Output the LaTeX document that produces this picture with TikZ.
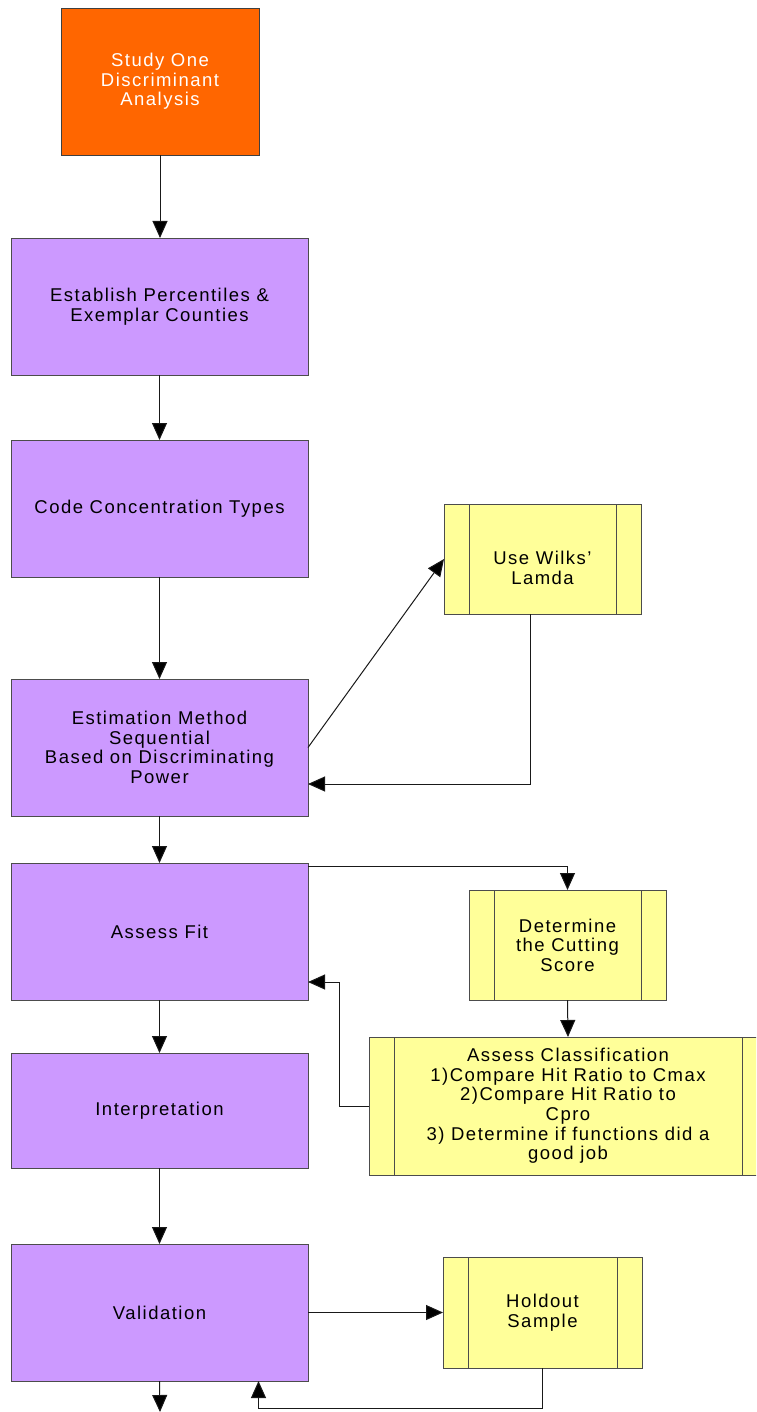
\documentclass[tikz,border=0pt]{standalone}
\usepackage{fontspec}
\setmainfont{Liberation Sans}[LetterSpace=8]
\usetikzlibrary{arrows.meta}
\definecolor{studyorange}{HTML}{FF6600}
\definecolor{steppurple}{HTML}{CC99FF}
\definecolor{subyellow}{HTML}{FFFF99}
\tikzset{
  boxtext/.style={font=\fontsize{18.5}{19.6}\selectfont, align=center, inner sep=0pt, outer sep=0pt},
  startbox/.style={boxtext, draw=black!75, line width=0.9pt, fill=studyorange, text=white},
  stepbox/.style={boxtext, draw=black!70, line width=0.9pt, fill=steppurple, minimum width=297pt},
  subbox/.style={boxtext, draw=black!70, line width=0.9pt, fill=subyellow,
    path picture={
      \draw[black!70, line width=0.9pt]
        ([xshift=25pt]path picture bounding box.north west) -- ([xshift=25pt]path picture bounding box.south west)
        ([xshift=-25pt]path picture bounding box.north east) -- ([xshift=-25pt]path picture bounding box.south east);
    }},
  link/.style={draw=black!90, line width=1pt, -{Triangle[length=17pt,width=15pt,fill=black]}},
}
\begin{document}
\begin{tikzpicture}[x=1pt,y=-1pt]
\useasboundingbox (0,0) rectangle (756,1412);
\clip (0,0) rectangle (756,1412);

% main column
\node[startbox, minimum width=198pt, minimum height=147pt] (study) at (160,81.5) {Study One\\Discriminant\\Analysis};
\node[stepbox, minimum height=137pt] (estab) at (159.5,306.5) {Establish Percentiles \&\\Exemplar Counties};
\node[stepbox, minimum height=137pt] (code) at (159.5,508.5) {Code Concentration Types};
\node[stepbox, minimum height=137pt] (estim) at (159.5,747.5) {Estimation Method\\Sequential\\Based on Discriminating\\Power};
\node[stepbox, minimum height=137pt] (fit) at (159.5,931.5) {Assess Fit};
\node[stepbox, minimum height=115pt] (interp) at (159.5,1110.5) {Interpretation};
\node[stepbox, minimum height=137pt] (valid) at (159.5,1312.5) {Validation};
\coordinate (exit) at (160,1412);

% side processes
\node[subbox, minimum width=197pt, minimum height=110pt] (wilks) at (542.5,559) {};
\node[boxtext] (wilkstext) at ([yshift=-9pt]wilks.center) {Use Wilks'\\Lamda};
\node[subbox, minimum width=197pt, minimum height=110pt] (cut) at (567.5,945) {Determine\\the Cutting\\Score};
\node[subbox, minimum width=398pt, minimum height=138pt] (class) at (568,1106) {Assess Classification\\1)Compare Hit Ratio to Cmax\\2)Compare Hit Ratio to\\Cpro\\3) Determine if functions did a\\good job};
\node[subbox, minimum width=199pt, minimum height=111pt] (hold) at (542.5,1312.5) {Holdout\\Sample};

% main flow
\draw[link] (study.south) -- (study.south |- estab.north);
\draw[link] (estab.south) -- (code.north);
\draw[link] (code.south) -- (estim.north);
\draw[link] (estim.south) -- (fit.north);
\draw[link] (fit.south) -- (interp.north);
\draw[link] (interp.south) -- (valid.north);
\draw[link] (valid.south) -- (exit);

% loops
\draw[link] (estim.east) -- (wilks.west);
\draw[link] ([xshift=-12.5pt]wilks.south) |- ([yshift=-36.5pt]estim.east);
\draw[link] ([yshift=-3pt]fit.north east) -| (cut.north);
\draw[link] (cut.south) -- (class.north);
\draw[link] (class.west) -- ++(-30,0) |- ([yshift=-50.5pt]fit.east);
\draw[link] (valid.east) -- (hold.west);
\draw[link] (hold.south) -- ++(0,40) -| ([xshift=99pt]valid.south);
\end{tikzpicture}
\end{document}
